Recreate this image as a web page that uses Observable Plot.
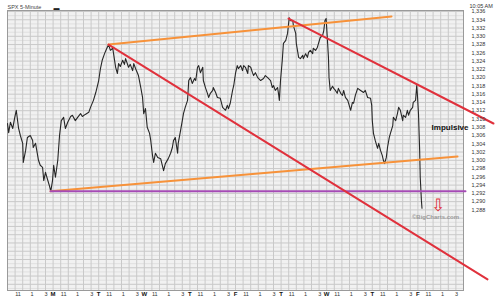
<!DOCTYPE html>
<html><head><meta charset="utf-8">
<script src="https://cdn.jsdelivr.net/npm/d3@7"></script>
<script src="https://cdn.jsdelivr.net/npm/@observablehq/plot@0.6"></script>
<style>body{margin:0;background:#fff;} svg{display:block}</style>
</head><body><div id="chart"></div>
<script>
// 5-minute bar index (78 bars per trading day) and price
const bars = [0,2,5,9,12,15,19,22,26,27,31,34,39,43,44,48,53,56,60,62,65,68,72,74,77,
79,82,86,89,92,96,99,103,108,111,116,120,125,128,133,139,142,147,151,156,
159,162,166,169,173,176,180,185,188,190,193,197,200,202,207,210,214,216,219,224,228,231,233,
236,239,243,245,248,250,253,257,262,267,270,275,279,282,284,287,291,292,296,299,301,304,308,310,
313,316,320,322,325,327,330,334,335,339,342,344,347,351,352,356,359,364,368,373,376,378,381,385,387,390,
393,395,399,402,404,407,411,412,416,419,421,424,428,433,438,441,445,450,453,455,458,462,464,465,
467,470,472,476,479,481,482,484,488,489,493,494,496,498,501,505,506,510,513,515,518,522,523,527,530,532,535,539,541,543,545,
547,549,550,552,556,558,561,564,566,570,573,575,578,582,587,590,592,595,599,604,609,612,616,621,623,
624,626,629,633,635,638,641,643,645,648,650,653,655,659,660,664,667,669,672,676,677,681,684,686,689,693,694,698,700,701,
703,705,706,708,709];
const closes = [1308.9,1306.7,1309.2,1307.7,1310.1,1312.1,1307.7,1306.0,1304.1,1299.5,1302.4,1305.5,1306.0,1304.8,1303.1,1304.1,1300.0,1298.8,1298.3,1295.1,1297.1,1295.6,1293.7,1292.5,1295.1,
1298.8,1295.9,1300.0,1306.0,1309.6,1310.4,1307.7,1309.2,1310.6,1310.9,1309.6,1310.4,1311.3,1310.6,1311.1,1311.6,1312.8,1314.5,1316.4,1319.3,
1322.2,1324.2,1325.8,1326.8,1328.0,1326.6,1327.1,1322.5,1321.0,1323.4,1322.7,1324.2,1323.2,1324.6,1322.5,1323.2,1321.7,1323.4,1322.2,1320.5,1317.6,1315.2,1311.3,
1312.5,1308.0,1306.5,1304.8,1301.2,1299.5,1301.7,1300.7,1300.4,1297.5,1299.2,1300.4,1301.7,1303.1,1304.8,1305.5,1301.7,1304.1,1307.2,1309.6,1311.3,1312.8,1314.5,1319.3,
1320.0,1318.6,1319.8,1319.3,1322.5,1322.9,1321.2,1322.5,1319.3,1317.4,1316.2,1315.2,1316.2,1316.9,1317.6,1316.4,1315.2,1315.0,1312.8,1312.1,1313.3,1312.5,1313.8,1316.9,1318.1,1321.0,
1322.9,1322.2,1322.9,1321.7,1322.9,1322.5,1321.0,1322.9,1322.5,1321.2,1320.5,1321.2,1320.0,1319.3,1319.8,1320.5,1320.0,1319.3,1317.6,1318.1,1316.9,1317.6,1315.7,1314.5,
1319.3,1324.2,1328.3,1329.0,1330.7,1333.3,1334.5,1333.8,1333.8,1332.6,1330.7,1328.3,1326.6,1324.9,1324.6,1325.4,1324.6,1325.8,1324.9,1326.1,1326.6,1325.8,1327.1,1326.6,1327.3,1328.3,1329.7,1330.2,1331.4,1333.8,1334.3,
1329.7,1324.9,1320.0,1316.9,1317.9,1317.4,1316.9,1316.2,1317.4,1316.2,1315.7,1316.9,1315.2,1314.5,1312.1,1314.0,1313.8,1315.7,1317.4,1316.9,1316.4,1316.9,1315.2,1315.0,1313.3,
1309.6,1306.5,1304.8,1302.9,1304.1,1302.4,1301.2,1300.0,1299.2,1300.7,1303.1,1305.5,1306.5,1308.4,1310.4,1309.6,1311.3,1312.8,1312.1,1309.6,1310.9,1310.4,1312.1,1310.9,1312.1,1312.8,1314.0,1314.5,1318.1,1316.2,
1311.3,1302.4,1295.9,1290.3,1288.4];

// x-axis labels
const dayLetters = ["", "M", "T", "W", "T", "F", "T", "W", "T", "F"];
const hourLabels = ["11", "1", "3"];
const hourBars = [18, 42, 66];
const barsPerDay = 78;
const yTickValues = d3.range(1288, 1337, 2);

// trendlines: [bar, price] endpoints
const orangeUpper = [[172.8, 1328.0], [656.9, 1334.8]];
const orangeLower = [[73.6, 1292.5], [769.8, 1300.9]];
const redLong = [[172.8, 1328.0], [821.1, 1271.2]];
const redShort = [[480.7, 1334.3], [831.3, 1308.9]];
const purpleSupport = [[73.6, 1292.5], [783.4, 1292.5]];

// annotations
const notes = [
  {bar: 757, price: 1308.0, text: "Impulsive"}
];
const arrowNote = {bar: 737, price: 1289.0, text: "⇩"};
const creditNote = {bar: 732, price: 1286.3, text: "©BigCharts.com"};

const series = bars.map((b, i) => ({bar: b, price: closes[i]}));
const xLabels = [];
dayLetters.forEach((d, i) => {
  hourBars.forEach((h, j) => xLabels.push({bar: i * barsPerDay + h, label: hourLabels[j]}));
});
const dayLabelData = dayLetters.map((d, i) => ({bar: i * barsPerDay, label: d})).filter(d => d.label);
const toPts = a => a.map(([bar, price]) => ({bar, price}));

const chart = Plot.plot({
  width: 495, height: 300,
  marginTop: 10, marginBottom: 10, marginLeft: 7, marginRight: 32,
  x: {type: "linear", domain: [0, 780], axis: null},
  y: {type: "linear", domain: [1268.5, 1336.24], axis: null},
  style: {fontFamily: "Liberation Sans, Arial, sans-serif", fontSize: "6px", background: "#fff"},
  marks: [
    Plot.frame({fill: "#f1f1f1", stroke: null}),
    Plot.ruleY(d3.range(1269, 1337, 2), {stroke: "#e0e0e0", strokeWidth: 1}),
    Plot.ruleY(d3.range(1270, 1337, 2), {stroke: "#c9c9c9", strokeWidth: 1}),
    Plot.ruleX(d3.range(0, 781, 13), {stroke: "#c9c9c9", strokeWidth: 1}),
    Plot.frame({stroke: "#9a9a9a"}),
    Plot.line(series, {x: "bar", y: "price", stroke: "#262626", strokeWidth: 1.1}),
    Plot.line(toPts(orangeUpper), {x: "bar", y: "price", stroke: "#f7923a", strokeWidth: 2}),
    Plot.line(toPts(orangeLower), {x: "bar", y: "price", stroke: "#f7923a", strokeWidth: 2}),
    Plot.line(toPts(purpleSupport), {x: "bar", y: "price", stroke: "#a54bb5", strokeWidth: 2}),
    Plot.line(toPts(redLong), {x: "bar", y: "price", stroke: "#e0313c", strokeWidth: 2}),
    Plot.line(toPts(redShort), {x: "bar", y: "price", stroke: "#e0313c", strokeWidth: 2}),
    Plot.text(notes, {x: "bar", y: "price", text: "text", fontWeight: "bold", fontSize: 8, fill: "#111"}),
    Plot.text([arrowNote], {x: "bar", y: "price", text: "text", fontSize: 17, fill: "#e0313c"}),
    Plot.text([creditNote], {x: "bar", y: "price", text: "text", fontSize: 6, fontWeight: "bold", fill: "#9a9a9a"}),
    // y axis labels
    Plot.text(yTickValues, {y: d => d, text: d => d3.format(",")(d), frameAnchor: "right", dx: 8, textAnchor: "start", fill: "#333", fontSize: 5.5}),
    // x axis labels
    Plot.text(xLabels, {x: "bar", text: "label", frameAnchor: "bottom", dy: 5, fill: "#333", fontSize: 5.5}),
    Plot.text(dayLabelData, {x: "bar", text: "label", frameAnchor: "bottom", dy: 5, fill: "#111", fontSize: 6, fontWeight: "bold"}),
    // header
    Plot.text(["SPX 5-Minute"], {frameAnchor: "top-left", dy: -5, dx: 0, textAnchor: "start", fill: "#444", fontSize: 5.5}),
    Plot.text(["▬"], {frameAnchor: "top-left", dy: -5, dx: 46, textAnchor: "start", fill: "#222", fontSize: 6}),
    Plot.text(["10:05 AM"], {frameAnchor: "top-right", dy: -6, dx: 6, textAnchor: "start", fill: "#333", fontSize: 5.5})
  ]
});
document.getElementById("chart").appendChild(chart);
</script>
</body></html>
